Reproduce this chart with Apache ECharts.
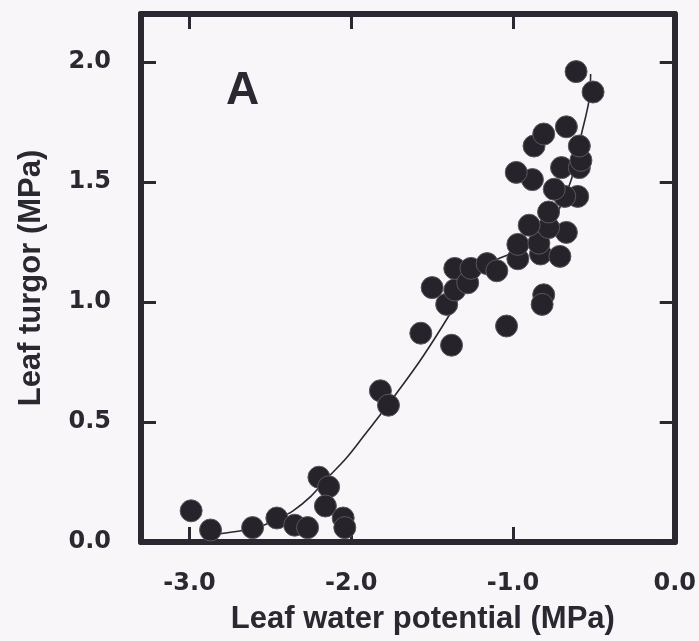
<!DOCTYPE html>
<html>
<head>
<meta charset="utf-8">
<script src="https://cdn.jsdelivr.net/npm/echarts@6/dist/echarts.min.js"></script>
<style>
html,body{margin:0;padding:0;background:#f8f6f8;}
#chart{width:699px;height:641px;}
</style>
</head>
<body>
<div id="chart"></div>
<script>
// Data
var waterPotential = [-2.99,-2.87,-2.61,-2.46,-2.35,-2.27,-2.20,-2.14,-2.16,-2.05,-2.04,
  -1.82,-1.77,-1.57,-1.50,-1.41,-1.38,-1.36,-1.36,-1.28,-1.26,-1.16,-1.10,-1.04,
  -0.97,-0.97,-0.83,-0.71,-0.81,-0.82,-0.84,-0.67,-0.78,-0.90,-0.78,-0.60,-0.68,
  -0.745,-0.88,-0.98,-0.70,-0.59,-0.58,-0.59,-0.87,-0.81,-0.67,-0.61,-0.505];
var turgor = [0.13,0.05,0.06,0.10,0.07,0.06,0.27,0.23,0.15,0.10,0.06,
  0.63,0.57,0.87,1.06,0.99,0.82,1.05,1.14,1.08,1.14,1.16,1.13,0.90,
  1.18,1.24,1.20,1.19,1.03,0.99,1.245,1.29,1.31,1.32,1.375,1.44,1.44,
  1.47,1.51,1.54,1.56,1.56,1.59,1.65,1.65,1.70,1.73,1.96,1.875];
var curveX = [-2.88,-2.70,-2.56,-2.46,-2.36,-2.25,-2.15,-2.03,-1.93,-1.72,-1.56,-1.39,-1.29,-1.15,-1.02,-0.90,-0.78,-0.70,-0.635,-0.58,-0.53,-0.52];
var curveY = [0.03,0.045,0.065,0.095,0.13,0.19,0.265,0.35,0.435,0.62,0.77,0.95,1.07,1.16,1.20,1.24,1.30,1.41,1.52,1.69,1.84,1.95];
var xTicks = [-3.0,-2.0,-1.0,0.0];
var yTicks = [0.0,0.5,1.0,1.5,2.0];
var xTitle = 'Leaf water potential (MPa)';
var yTitle = 'Leaf turgor (MPa)';
var panelLabel = 'A';

var ink = '#2a2830';

var pts = waterPotential.map(function(x,i){return [x, turgor[i]];});
var curve = curveX.map(function(x,i){return [x, curveY[i]];});

function axisBase(extra){
  var a = {
    type:'value', splitLine:{show:false},
    axisLine:{show:true, onZero:false, lineStyle:{color:ink, width:6}},
    axisTick:{show:true, inside:true, length:15, lineStyle:{color:ink, width:3}},
    axisLabel:{show:false}
  };
  for (var k in extra) a[k] = extra[k];
  return a;
}

var chart = echarts.init(document.getElementById('chart'));
chart.setOption({
  backgroundColor:'#f8f6f8',
  animation:false,
  grid:{left:141, right:23, top:14, bottom:99},
  xAxis:[
    axisBase({position:'bottom', min:-3.3, max:0,
      axisTick:{show:true, inside:true, length:15, customValues:xTicks, lineStyle:{color:ink, width:3}},
      axisLabel:{show:true, margin:30, customValues:xTicks, formatter:function(v){return v.toFixed(1);}, fontFamily:'DejaVu Sans', fontWeight:'bold', fontSize:24, color:ink},
      name:xTitle, nameLocation:'middle', nameGap:62,
      nameTextStyle:{fontFamily:'Liberation Sans', fontWeight:'bold', fontSize:31, color:ink, padding:[0,0,0,30]}
    }),
    axisBase({position:'top', min:-3.3, max:0,
      axisTick:{show:true, inside:true, length:15, customValues:xTicks, lineStyle:{color:ink, width:3}}
    })
  ],
  yAxis:[
    axisBase({position:'left', min:0, max:2.2,
      axisTick:{show:true, inside:true, length:15, customValues:yTicks, lineStyle:{color:ink, width:3}},
      axisLabel:{show:true, margin:30, customValues:yTicks, formatter:function(v){return v.toFixed(1);}, fontFamily:'DejaVu Sans', fontWeight:'bold', fontSize:24, color:ink},
      name:yTitle, nameLocation:'middle', nameGap:94, nameRotate:90,
      nameTextStyle:{fontFamily:'Liberation Sans', fontWeight:'bold', fontSize:31, color:ink}
    }),
    axisBase({position:'right', min:0, max:2.2,
      axisTick:{show:true, inside:true, length:15, customValues:yTicks, lineStyle:{color:ink, width:3}}
    })
  ],
  series:[
    {type:'line', data:curve, smooth:0.35, showSymbol:false, symbol:'none',
     lineStyle:{color:ink, width:1.6}, z:2},
    {type:'scatter', data:pts, symbol:'circle', symbolSize:22,
     itemStyle:{color:'#26242a', borderColor:'#5a585e', borderWidth:1, opacity:1}, z:3}
  ],
  graphic:[
    {type:'text', left:226, top:68, style:{text:panelLabel, fontFamily:'Liberation Sans', fontWeight:'bold', fontSize:46, fill:ink}}
  ]
});
</script>
</body>
</html>
